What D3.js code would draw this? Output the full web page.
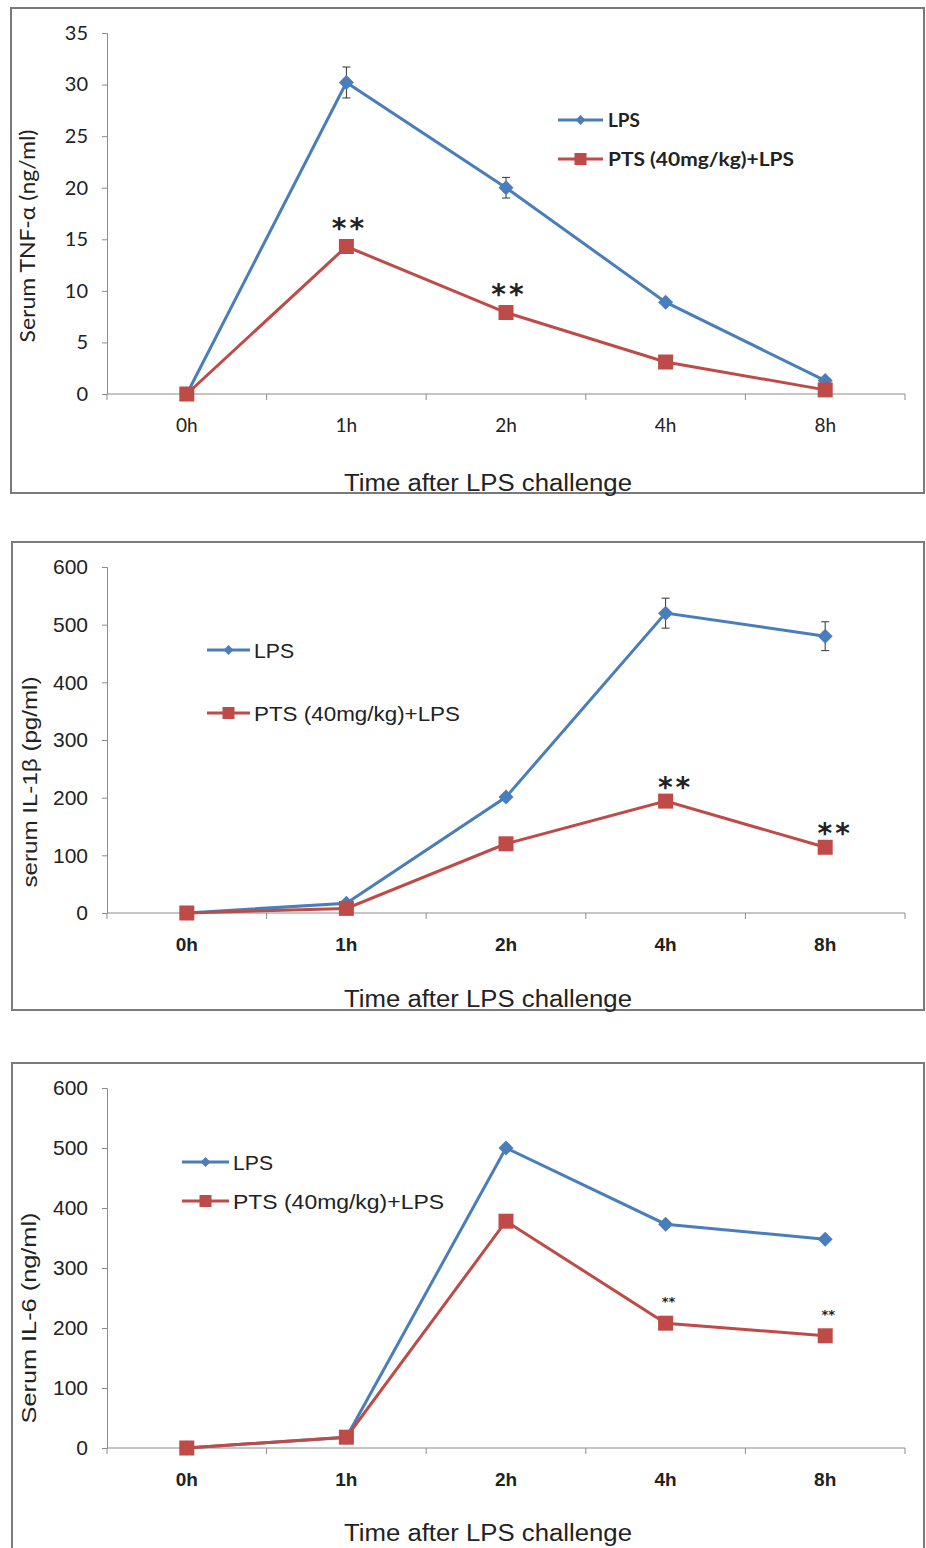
<!DOCTYPE html>
<html>
<head>
<meta charset="utf-8">
<script src="https://cdn.jsdelivr.net/npm/d3@7"></script>
<style>
  body { margin: 0; background: #fff; }
  svg { display: block; }
</style>
</head>
<body>
<div id="chart"></div>
<script>
// categories and values
var times = ["0h", "1h", "2h", "4h", "8h"];

var tnfLps    = [0, 30.2, 20.0, 8.9, 1.3];
var tnfLpsErr = [0, 1.5, 1.0, 0, 0];
var tnfPts    = [0, 14.3, 7.9, 3.1, 0.4];
var tnfStars  = ["", "**", "**", "", ""];
var tnfTicks  = [0, 5, 10, 15, 20, 25, 30, 35];

var il1Lps    = [0, 17, 201, 520, 480];
var il1LpsErr = [0, 0, 0, 26, 25];
var il1Pts    = [0, 8, 120, 194, 114];
var il1Stars  = ["", "", "", "**", "**"];
var il1Ticks  = [0, 100, 200, 300, 400, 500, 600];

var il6Lps    = [0, 18, 500, 373, 348];
var il6Pts    = [0, 18, 378, 208, 187];
var il6Stars  = ["", "", "", "**", "**"];
var il6Ticks  = [0, 100, 200, 300, 400, 500, 600];

var seriesNames = ["LPS", "PTS (40mg/kg)+LPS"];

var blue = "#4a7ebb", red = "#be4b48", axisCol = "#8c8c8c";
var arial = "'Liberation Sans', Arial, sans-serif";
var calibri = "Lato, 'Open Sans', sans-serif";

var svg = d3.select("#chart").append("svg")
    .attr("width", 926).attr("height", 1548);

// panel layouts (the source image is a bit stretched vertically, so text
// gets a taller font squeezed to the measured width)
var panels = [
  { box: [11, 8, 913, 485], left: 107, right: 905, top: 33, bottom: 394, max: 35,
    ticks: tnfTicks, lps: tnfLps, err: tnfLpsErr, pts: tnfPts, stars: tnfStars,
    starSize: 28, starDy: -9, starDx: 3,
    ylabel: "Serum TNF-α (ng/ml)", ylabelFont: calibri, ylabelSize: 21, ylabelLen: 213,
    ylabelX: 28, ylabelY: 236,
    tickFont: calibri, tickSize: 20, xTickSize: 19, xTickWeight: "normal",
    legend: { x1: 558, x2: 603, y: [120, 159], font: calibri, size: 19, weight: "bold",
              gap: 5, len: [32, 186] },
    titleY: 491 },
  { box: [12, 542, 912, 468], left: 107, right: 905, top: 567, bottom: 913, max: 600,
    ticks: il1Ticks, lps: il1Lps, err: il1LpsErr, pts: il1Pts, stars: il1Stars,
    starSize: 28, starDy: -4, starDx: 10,
    ylabel: "serum IL-1β (pg/ml)", ylabelFont: arial, ylabelSize: 20, ylabelLen: 211,
    ylabelX: 30, ylabelY: 782,
    tickFont: arial, tickSize: 21, xTickSize: 19, xTickWeight: "bold",
    legend: { x1: 207, x2: 250, y: [650, 713], font: arial, size: 21, weight: "normal",
              gap: 4, len: [40, 206] },
    titleY: 1007 },
  { box: [12, 1063, 912, 492], left: 107, right: 905, top: 1088, bottom: 1448, max: 600,
    ticks: il6Ticks, lps: il6Lps, err: null, pts: il6Pts, stars: il6Stars,
    starSize: 13, starDy: -17, starDx: 3,
    ylabel: "Serum IL-6 (ng/ml)", ylabelFont: arial, ylabelSize: 20, ylabelLen: 211,
    ylabelX: 29, ylabelY: 1318,
    tickFont: arial, tickSize: 21, xTickSize: 19, xTickWeight: "bold",
    legend: { x1: 182, x2: 229, y: [1162, 1201], font: arial, size: 21, weight: "normal",
              gap: 4, len: [40, 211] },
    titleY: 1541 }
];

function diamond(g, cx, cy, r, col) {
  g.append("path")
    .attr("d", "M" + cx + "," + (cy - r) + "L" + (cx + r) + "," + cy + "L" + cx + "," + (cy + r) + "L" + (cx - r) + "," + cy + "Z")
    .attr("fill", col);
}
function square(g, cx, cy, s, col) {
  g.append("rect").attr("x", cx - s / 2).attr("y", cy - s / 2)
    .attr("width", s).attr("height", s).attr("fill", col);
}

panels.forEach(function(p) {
  var g = svg.append("g");

  // outer frame
  g.append("rect")
    .attr("x", p.box[0]).attr("y", p.box[1])
    .attr("width", p.box[2]).attr("height", p.box[3])
    .attr("fill", "#fff").attr("stroke", "#7a7a7a").attr("stroke-width", 2);

  var x = d3.scaleBand().domain(times).range([p.left, p.right]);
  var y = d3.scaleLinear().domain([0, p.max]).range([p.bottom, p.top]);
  var cx = function(d, i) { return x(times[i]) + x.bandwidth() / 2; };

  // y axis
  var yAxis = g.append("g")
    .attr("transform", "translate(" + p.left + ",0)")
    .call(d3.axisLeft(y).tickValues(p.ticks).tickSize(5).tickPadding(14));
  yAxis.selectAll("path, line").attr("stroke", axisCol);
  yAxis.selectAll("text").attr("font-family", p.tickFont).attr("font-size", p.tickSize).attr("fill", "#222");

  // x axis with ticks between categories
  var xAxis = g.append("g").attr("transform", "translate(0," + p.bottom + ")");
  xAxis.append("line").attr("x1", p.left).attr("x2", p.right).attr("stroke", axisCol);
  var bounds = times.map(function(t) { return x(t); }).concat([p.right]);
  xAxis.selectAll(".tk").data(bounds).enter().append("line")
    .attr("x1", function(d) { return d; }).attr("x2", function(d) { return d; })
    .attr("y1", 0).attr("y2", 6).attr("stroke", axisCol);
  xAxis.selectAll(".lb").data(times).enter().append("text")
    .attr("x", function(d) { return x(d) + x.bandwidth() / 2; })
    .attr("y", 38)
    .attr("text-anchor", "middle")
    .attr("font-family", p.tickFont).attr("font-size", p.xTickSize)
    .attr("font-weight", p.xTickWeight).attr("fill", "#222")
    .text(function(d) { return d; });

  // axis titles
  g.append("text")
    .attr("transform", "translate(" + p.ylabelX + "," + p.ylabelY + ") rotate(-90)")
    .attr("text-anchor", "middle").attr("dy", "0.35em")
    .attr("font-family", p.ylabelFont).attr("font-size", p.ylabelSize)
    .attr("textLength", p.ylabelLen).attr("lengthAdjust", "spacingAndGlyphs")
    .attr("fill", "#222").text(p.ylabel);
  g.append("text")
    .attr("x", 488).attr("y", p.titleY)
    .attr("text-anchor", "middle")
    .attr("font-family", arial).attr("font-size", 23)
    .attr("textLength", 288).attr("lengthAdjust", "spacingAndGlyphs")
    .attr("fill", "#222").text("Time after  LPS challenge");

  var line = d3.line().x(cx).y(function(d) { return y(d); });

  // error bars for LPS
  if (p.err) {
    p.err.forEach(function(e, i) {
      if (!e) return;
      var xx = cx(null, i);
      g.append("line").attr("x1", xx).attr("x2", xx)
        .attr("y1", y(p.lps[i] - e)).attr("y2", y(p.lps[i] + e))
        .attr("stroke", "#333").attr("stroke-width", 1);
      [p.lps[i] - e, p.lps[i] + e].forEach(function(v) {
        g.append("line").attr("x1", xx - 4).attr("x2", xx + 4)
          .attr("y1", y(v)).attr("y2", y(v))
          .attr("stroke", "#333").attr("stroke-width", 1);
      });
    });
  }

  // series lines + markers
  g.append("path").datum(p.lps).attr("d", line)
    .attr("fill", "none").attr("stroke", blue).attr("stroke-width", 3);
  g.append("path").datum(p.pts).attr("d", line)
    .attr("fill", "none").attr("stroke", red).attr("stroke-width", 3);
  p.lps.forEach(function(v, i) { diamond(g, cx(v, i), y(v), 7.5, blue); });
  p.pts.forEach(function(v, i) { square(g, cx(v, i), y(v), 15, red); });

  // significance marks
  p.stars.forEach(function(s, i) {
    if (!s) return;
    g.append("text")
      .attr("x", cx(null, i) + p.starDx).attr("y", y(p.pts[i]) + p.starDy)
      .attr("text-anchor", "middle")
      .attr("font-family", "'DejaVu Sans', sans-serif").attr("font-size", p.starSize)
      .attr("font-weight", "bold")
      .attr("letter-spacing", p.starSize > 20 ? 3 : 0)
      .attr("fill", "#222").text(s);
  });

  // legend
  var L = p.legend, mid = (L.x1 + L.x2) / 2;
  [blue, red].forEach(function(col, k) {
    var ly = L.y[k];
    g.append("line").attr("x1", L.x1).attr("x2", L.x2).attr("y1", ly).attr("y2", ly)
      .attr("stroke", col).attr("stroke-width", 3);
    if (k === 0) diamond(g, mid, ly, 5, col); else square(g, mid, ly, 12, col);
    g.append("text")
      .attr("x", L.x2 + L.gap).attr("y", ly).attr("dy", "0.36em")
      .attr("font-family", L.font).attr("font-size", L.size).attr("font-weight", L.weight)
      .attr("textLength", L.len[k]).attr("lengthAdjust", "spacingAndGlyphs")
      .attr("fill", "#222").text(seriesNames[k]);
  });
});
</script>
</body>
</html>
